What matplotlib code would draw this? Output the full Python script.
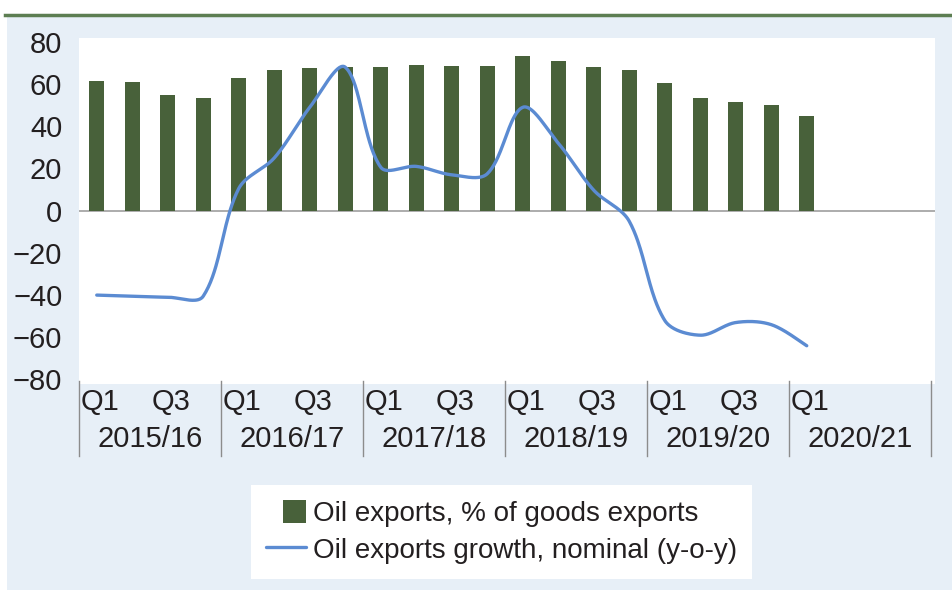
import numpy as np
import matplotlib
matplotlib.use("Agg")
import matplotlib.pyplot as plt
from matplotlib.patches import Rectangle
from matplotlib.lines import Line2D
from matplotlib.legend_handler import HandlerPatch
import matplotlib.transforms as mtransforms

plt.rcParams['font.family'] = ['Liberation Sans', 'DejaVu Sans']

# ---------------- data ----------------
years = ["2015/16", "2016/17", "2017/18", "2018/19", "2019/20", "2020/21"]
quarter_labels = ["Q1", "", "Q3", ""]
oil_share = [61.5, 61.0, 55.0, 53.3, 63.0, 66.7, 67.5, 67.9, 67.9, 69.2, 68.6, 68.6,
             73.2, 70.8, 67.9, 66.8, 60.3, 53.6, 51.7, 50.3, 44.7]
oil_growth = [-40.0, -40.5, -41.0, -40.5, 10.5, 25.0, 49.0, 68.0, 20.6, 21.0, 17.0, 17.5,
              49.0, 32.0, 9.7, -5.0, -52.0, -59.0, -53.0, -54.0, -64.0]
bar_label = "Oil exports, % of goods exports"
line_label = "Oil exports growth, nominal (y-o-y)"
yticks = [-80, -60, -40, -20, 0, 20, 40, 60, 80]

BAR_COLOR = "#48613a"
LINE_COLOR = "#5b8bd2"
BG_BLUE = "#e7eff7"
TXT = "#231f20"

W, H = 952, 594
fig = plt.figure(figsize=(W / 100, H / 100), dpi=100, facecolor="white")

fig.patches.append(Rectangle((7 / W, 1 - 590 / H), (W - 7) / W, (590 - 16) / H,
                             transform=fig.transFigure, facecolor=BG_BLUE,
                             edgecolor="none", zorder=-5))
fig.lines.append(Line2D([5 / W, 1], [1 - 15 / H, 1 - 15 / H], transform=fig.transFigure,
                        color="#5d7e52", lw=2.5, zorder=-4))

ylo, yhi = -82, 82
px_per_unit = 2.11
top_px = 210.7 - yhi * px_per_unit
bot_px = 210.7 - ylo * px_per_unit
left_px, right_px = 79, 935
cat_px = 35.5
ax = fig.add_axes([left_px / W, 1 - bot_px / H, (right_px - left_px) / W, (bot_px - top_px) / H])
ax.set_zorder(2)
ax.set_facecolor("white")

n = len(oil_share)
x = np.arange(n)
bars = ax.bar(x, oil_share, width=0.43, color=BAR_COLOR, label=bar_label, zorder=2)
ax.axhline(0, color="#a6a6a6", lw=1.3, zorder=1)

# smoothed line: Bezier through the data points with chord-weighted tangents
P = np.column_stack([x * cat_px, np.asarray(oil_growth, float) * px_per_unit])
xs, ys = [], []
for i in range(n - 1):
    p0 = P[max(i - 1, 0)]; p1 = P[i]; p2 = P[i + 1]; p3 = P[min(i + 2, n - 1)]
    d01 = np.linalg.norm(p1 - p0); d12 = np.linalg.norm(p2 - p1); d23 = np.linalg.norm(p3 - p2)
    w1 = d12 / (d01 + d12) if d01 > 0 else 0.5
    w2 = d12 / (d12 + d23) if d23 > 0 else 0.5
    c1 = p1 + (p2 - p0) * w1 / 3.0
    c2 = p2 - (p3 - p1) * w2 / 3.0
    t = np.linspace(0, 1, 40)[:, None]
    seg = (1 - t) ** 3 * p1 + 3 * (1 - t) ** 2 * t * c1 + 3 * (1 - t) * t ** 2 * c2 + t ** 3 * p2
    xs.extend(seg[:, 0] / cat_px); ys.extend(seg[:, 1] / px_per_unit)
line, = ax.plot(xs, ys, color=LINE_COLOR, lw=2.4, label=line_label, zorder=3,
                solid_capstyle="round")

ax.set_ylim(ylo, yhi)
ax.set_xlim(-0.5, -0.5 + (right_px - left_px) / cat_px)
ax.set_yticks(yticks)
ax.set_yticklabels([str(v).replace("-", "\u2212") if v < 0 else str(v) for v in yticks])
ax.tick_params(axis="y", length=0, pad=12, labelsize=21, labelcolor=TXT)
ax.set_xticks([])
for s in ax.spines.values():
    s.set_visible(False)

trans = mtransforms.blended_transform_factory(ax.transData, ax.transAxes)
axh = bot_px - top_px
def yfrac(ypix):
    return (bot_px - ypix) / axh
for k, yr in enumerate(years):
    for q, ql in enumerate(quarter_labels):
        if ql and 4 * k + q < n:
            ax.text(4 * k + q + 0.1, yfrac(402), ql, transform=trans, ha="center",
                    va="center", fontsize=21, color=TXT, clip_on=False)
    ax.text(4 * k + 1.5, yfrac(439), yr, transform=trans, ha="center", va="center",
            fontsize=21, color=TXT, clip_on=False)
for k in range(len(years) + 1):
    ax.add_line(Line2D([4 * k - 0.5, 4 * k - 0.5], [yfrac(bot_px - 3), yfrac(456)],
                       transform=trans, color="#8c8c8c", lw=1.0, clip_on=False))

def square_patch(legend, orig_handle, xdescent, ydescent, width, height, fontsize):
    s = height
    return Rectangle((width - s - xdescent, -ydescent), s, s)

bar_handle = bars.patches[0]
leg = fig.legend(handles=[bar_handle, line], labels=[bar_label, line_label], loc="center",
                 bbox_to_anchor=((258 + 745) / 2 / W, 1 - 532 / H),
                 frameon=True, fancybox=False, fontsize=20, handlelength=1.45,
                 handleheight=0.88, handletextpad=0.25, borderpad=0.55,
                 labelspacing=0.35, borderaxespad=0, labelcolor=TXT,
                 handler_map={bar_handle: HandlerPatch(patch_func=square_patch)})
leg.get_frame().set_facecolor("white")
leg.get_frame().set_edgecolor("none")
leg.get_frame().set_alpha(1)

fig.savefig("out.png", dpi=100, facecolor="white")
